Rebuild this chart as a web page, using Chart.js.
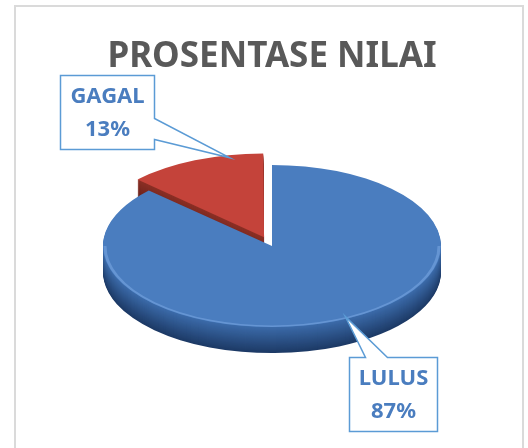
<!DOCTYPE html>
<html>
<head>
<meta charset="utf-8">
<script src="https://cdn.jsdelivr.net/npm/chart.js@4/dist/chart.umd.min.js"></script>
<style>
  html, body { margin: 0; padding: 0; background: #fff; overflow: hidden; }
  #frame { position: absolute; left: 14px; top: 5px; width: 506px; height: 470px; border: 2px solid #dadada; }
  #wrap { position: absolute; left: 0; top: 0; width: 528px; height: 448px; }
</style>
</head>
<body>
<div id="frame"></div>
<div id="wrap"><canvas id="chart" width="528" height="448"></canvas></div>
<script>
// Data
const labels = ['LULUS', 'GAGAL'];
const values = [87, 13];
const topColors = ['#4a7dbf', '#c4433a'];
const sideTop = [[59, 106, 168], [138, 47, 37]];
const sideBottom = [[29, 58, 102], [90, 29, 24]];

// 3d look
const tilt = 0.48;
const depth = 26;

const total = values.reduce((a, b) => a + b, 0);
const pct = values.map(v => Math.round(v / total * 100) + '%');

function lerpColor(a, b, t){
    return 'rgb(' + a.map((c, i) => Math.round(c + (b[i] - c) * t)).join(',') + ')';
}

// squash the pie into an ellipse around its centre
function squash(ctx, el){
    ctx.translate(0, el.y);
    ctx.scale(1, tilt);
    ctx.translate(0, -el.y);
}

// screen point of an arc at angle fraction f and radius fraction r (incl. explode offset)
function arcPoint(el, f, r){
    const a = el.startAngle + (el.endAngle - el.startAngle) * f;
    const half = (el.startAngle + el.endAngle) / 2;
    const off = (el.options.offset || 0) / 4;
    const x = el.x + Math.cos(a) * el.outerRadius * r + Math.cos(half) * off;
    const y = el.y + (Math.sin(a) * el.outerRadius * r + Math.sin(half) * off) * tilt;
    return {x, y};
}

const pie3d = {
    id: 'pie3d',
    beforeDatasetsDraw(chart){
        const ctx = chart.ctx;
        const arcs = chart.getDatasetMeta(0).data;
        ctx.save();
        for(let d = depth; d >= 1; d--){
            const t = (d - 1) / (depth - 1);
            ctx.save();
            ctx.translate(0, d);
            squash(ctx, arcs[0]);
            [1, 0].forEach(i => {
                const el = arcs[i];
                const fake = Object.create(el);
                fake.options = Object.assign({}, el.options, {backgroundColor: lerpColor(sideTop[i], sideBottom[i], t), borderWidth: 0});
                fake.draw(ctx);
            });
            ctx.restore();
        }
        squash(ctx, arcs[0]);
    },
    afterDatasetsDraw(chart){
        const ctx = chart.ctx;
        const el = chart.getDatasetMeta(0).data[0];
        // light rim on the front edge
        ctx.beginPath();
        ctx.arc(el.x, el.y, el.outerRadius - 2, 0, Math.PI);
        ctx.strokeStyle = 'rgba(120,165,225,0.6)';
        ctx.lineWidth = 3;
        ctx.stroke();
        ctx.restore();
    }
};

// callout labels
const callouts = [
    {f: 0.49, r: 0.97, dx: 48, dy: 78, w: 88, h: 74, side: 'top', w1: 16, w2: 38},
    {f: 0.75, r: 1.0, dx: -123, dy: -46, w: 94, h: 74, side: 'right', w1: 43, w2: 64}
];

const calloutPlugin = {
    id: 'callouts',
    afterDraw(chart){
        const ctx = chart.ctx;
        const arcs = chart.getDatasetMeta(0).data;
        arcs.forEach((el, i) => {
            const c = callouts[i];
            const tip = arcPoint(el, c.f, c.r);
            const bx = Math.round(tip.x + c.dx - c.w / 2) + 0.5;
            const by = Math.round(tip.y + c.dy - c.h / 2) + 0.5;
            ctx.save();
            ctx.beginPath();
            if(c.side === 'top'){
                ctx.moveTo(bx, by);
                ctx.lineTo(bx + c.w1, by);
                ctx.lineTo(tip.x, tip.y);
                ctx.lineTo(bx + c.w2, by);
                ctx.lineTo(bx + c.w, by);
                ctx.lineTo(bx + c.w, by + c.h);
                ctx.lineTo(bx, by + c.h);
            } else {
                ctx.moveTo(bx, by);
                ctx.lineTo(bx + c.w, by);
                ctx.lineTo(bx + c.w, by + c.w1);
                ctx.lineTo(tip.x, tip.y);
                ctx.lineTo(bx + c.w, by + c.w2);
                ctx.lineTo(bx + c.w, by + c.h);
                ctx.lineTo(bx, by + c.h);
            }
            ctx.closePath();
            ctx.fillStyle = '#fff';
            ctx.fill();
            ctx.strokeStyle = '#5b9bd5';
            ctx.lineWidth = 1.5;
            ctx.stroke();
            ctx.fillStyle = '#4a7dbf';
            ctx.font = 'bold 22px "Noto Sans"';
            ctx.textAlign = 'center';
            ctx.textBaseline = 'middle';
            ctx.fillText(labels[i], bx + c.w / 2, by + 21);
            ctx.fillText(pct[i], bx + c.w / 2, by + 54);
            ctx.restore();
        });
    }
};

const chart = new Chart(document.getElementById('chart'), {
    type: 'pie',
    data: {
        labels: labels,
        datasets: [{
            data: values,
            backgroundColor: topColors,
            borderWidth: 0,
            offset: [0, 80]
        }]
    },
    options: {
        responsive: false,
        animation: false,
        radius: 169,
        layout: {padding: {left: 30, right: 14, top: 0, bottom: 34}},
        plugins: {
            legend: {display: false},
            tooltip: {enabled: false},
            title: {
                display: true,
                text: 'PROSENTASE NILAI',
                color: '#595959',
                font: {family: '"Noto Sans"', size: 35, weight: 'bold', lineHeight: 1.2},
                padding: {top: 36, bottom: 0}
            }
        }
    },
    plugins: [pie3d, calloutPlugin]
});
</script>
</body>
</html>
